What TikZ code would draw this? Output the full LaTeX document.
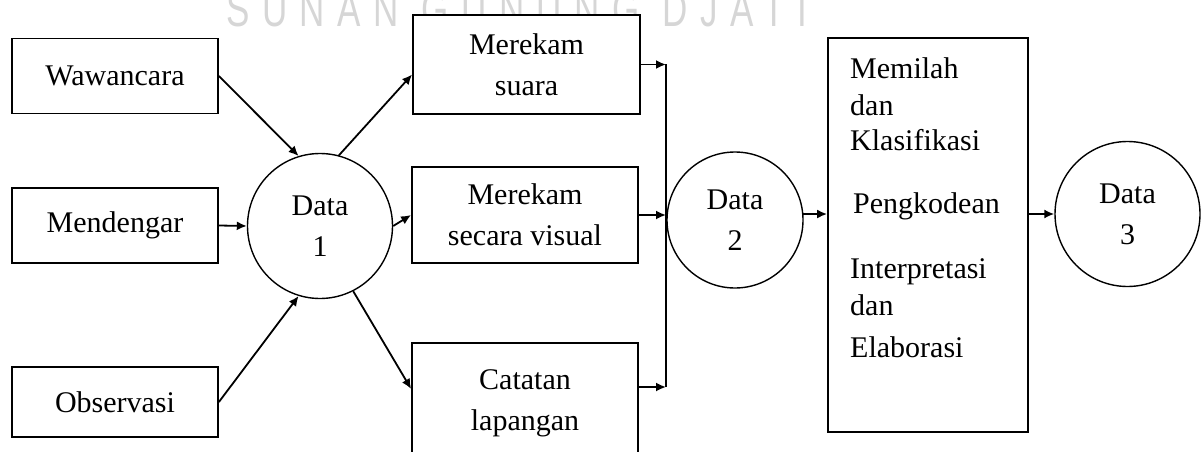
\documentclass[tikz,border=0pt]{standalone}
\usepackage{fontspec}
\setmainfont{Liberation Serif}
\newfontfamily\wmfont[LetterSpace=36]{Liberation Sans}
\usetikzlibrary{arrows.meta}

\tikzset{
  kotak/.style={draw, line width=1.8pt, fill=white, minimum width=206, minimum height=75, inner sep=0pt, align=center},
  bulat/.style={draw, circle, line width=1.4pt, fill=white, inner sep=0pt, align=center},
  panah/.style={line width=1.8pt, -{Latex[length=10pt,width=9pt]}},
  baris/.style={anchor=base west, inner sep=0pt},
}

\begin{document}
\begin{tikzpicture}[x=1pt, y=-1pt, font=\fontsize{30}{41}\selectfont]
    \useasboundingbox (0,0) rectangle (1204,452);
    % watermark
    \node[font=\wmfont\fontsize{50}{50}\selectfont, text=black!16, anchor=base west, inner sep=0pt, xscale=0.7] (wm) at (226,27) {SUNAN GUNUNG DJATI};

    \node[kotak] (wawancara) at (115,76) {Wawancara};
    \node[kotak] (mendengar) at (115,225.5) {Mendengar};
    \node[kotak, minimum height=70] (observasi) at (115,402) {Observasi};
    \node[bulat, minimum size=145] (data1) at (320,226) {Data\\1};
    \node[kotak, minimum width=227, minimum height=99] (suara) at (526.5,64.5) {Merekam\\suara};
    \node[kotak, minimum width=226, minimum height=96] (visual) at (525,215) {Merekam\\secara visual};
    \node[kotak, minimum width=226, minimum height=120, anchor=north] (catatan) at (525,342) {Catatan\\lapangan};
    \node[bulat, minimum size=136] (data2) at (735,220) {Data\\2};
    \node[kotak, minimum width=200, minimum height=394] (proses) at (928,235) {};
    \node[bulat, minimum size=145] (data3) at (1127.5,214) {Data\\3};

    \node[baris] (t1) at (850,78) {Memilah};
    \node[baris] (t2) at (850,115) {dan};
    \node[baris] (t3) at (850,150) {Klasifikasi};
    \node[baris] (t4) at (853,213) {Pengkodean};
    \node[baris] (t5) at (850,278) {Interpretasi};
    \node[baris] (t6) at (850,315) {dan};
    \node[baris] (t7) at (850,357) {Elaborasi};

    \draw[panah] (wawancara.east) -- (data1.107);
    \draw[panah] (mendengar.east) -- (data1.west);
    \draw[panah] (observasi.east) -- (data1.253);
    \draw[panah] (data1.75) -- (suara.185);
    \draw[panah] (data1.east) -- (visual.west);
    \draw[panah] (data1.297) -- (catatan.173);

    \coordinate (b1) at (666,64.5);
    \coordinate (b2) at (666,215);
    \coordinate (b3) at (666,387);
    \draw[line width=1.8pt] (b1) -- (b3);
    \draw[panah] (suara.east) -- (b1);
    \draw[panah] (visual.east) -- (b2);
    \draw[panah] (catatan.east |- b3) -- (b3);

    \draw[panah] (data2.5) -- (data2.5 -| proses.west);
    \draw[panah] (proses.east |- data3.west) -- (data3.west);
  \end{tikzpicture}
\end{document}
